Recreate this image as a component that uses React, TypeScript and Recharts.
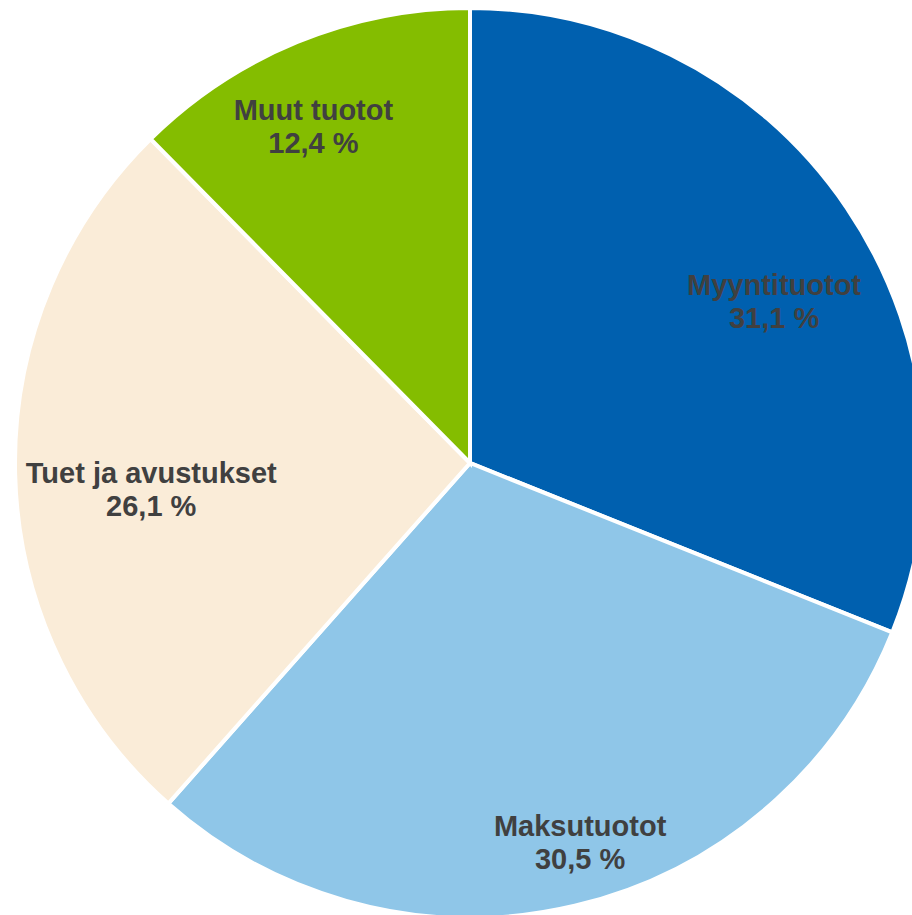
import React from 'react';
import { PieChart, Pie, Cell } from 'recharts';

const categories = ['Myyntituotot', 'Maksutuotot', 'Tuet ja avustukset', 'Muut tuotot'];
const shares = [31.1, 30.5, 26.1, 12.4];
const colors = ['#0060AF', '#8FC6E8', '#FAECD8', '#84BD00'];

// label placement (layout only): radial factor and angular shift in degrees
const labelRadius = [0.76, 0.871, 0.706, 0.821];
const labelAngleShift = [-6.1, 2.9, 3.2, 2.6];

const data = categories.map((name, i) => ({ name, value: shares[i] }));

const RAD = Math.PI / 180;
const R = 453;

const renderLabel = (props: any) => {
  const { cx, cy, midAngle, index } = props;
  const a = (midAngle + labelAngleShift[index]) * RAD;
  const r = R * labelRadius[index];
  const x = cx + r * Math.cos(-a);
  const y = cy + r * Math.sin(-a);
  const pct = shares[index].toFixed(1).replace('.', ',') + ' %';
  return (
    <text
      x={x}
      y={y - 6}
      textAnchor="middle"
      fill="#404040"
      fontFamily="'Liberation Sans', Arial, sans-serif"
      fontWeight="bold"
      fontSize={29}
    >
      <tspan x={x} y={y - 6}>{categories[index]}</tspan>
      <tspan x={x} y={y + 27}>{pct}</tspan>
    </text>
  );
};

export default function App() {
  return (
    <div style={{ position: 'absolute', left: 0, top: 0, width: 912, height: 915, overflow: 'hidden', background: '#fff' }}>
      <PieChart width={912} height={915} margin={{ top: 0, right: 0, bottom: 0, left: 0 }}>
        <Pie
          data={data}
          dataKey="value"
          nameKey="name"
          cx={470}
          cy={463}
          outerRadius={455}
          startAngle={90}
          endAngle={-270}
          stroke="#ffffff"
          strokeWidth={4}
          label={renderLabel}
          labelLine={false}
          isAnimationActive={false}
        >
          {data.map((d, i) => (
            <Cell key={d.name} fill={colors[i]} stroke="#ffffff" strokeWidth={4} />
          ))}
        </Pie>
      </PieChart>
    </div>
  );
}
